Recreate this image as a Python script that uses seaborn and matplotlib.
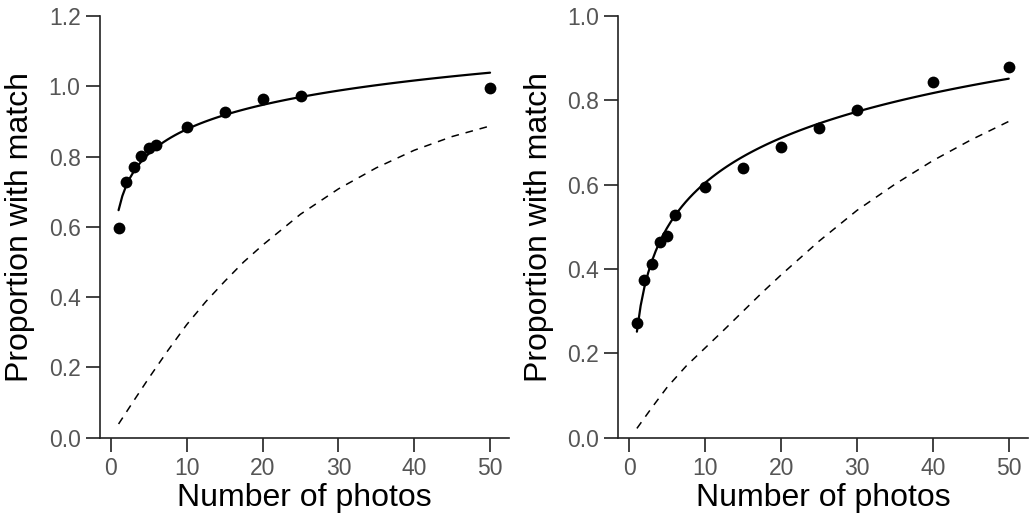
import numpy as np
import pandas as pd
import matplotlib
matplotlib.use("Agg")
import matplotlib.pyplot as plt
from matplotlib.ticker import FormatStrFormatter
import seaborn as sns

# ---- data ----
left_photos = [1, 2, 3, 4, 5, 6, 10, 15, 20, 25, 50]
left_match = [0.598, 0.728, 0.770, 0.801, 0.823, 0.832, 0.885, 0.927, 0.963, 0.973, 0.994]

right_photos = [1, 2, 3, 4, 5, 6, 10, 15, 20, 25, 30, 40, 50]
right_match = [0.273, 0.374, 0.411, 0.463, 0.479, 0.528, 0.594, 0.639, 0.690, 0.734, 0.777, 0.844, 0.880]

dash_photos = [1, 3, 5, 7.5, 10, 12.5, 15, 17.5, 20, 25, 30, 35, 40, 45, 50]
left_dash = [0.039, 0.105, 0.170, 0.248, 0.322, 0.387, 0.445, 0.500, 0.548, 0.636, 0.708, 0.768, 0.818, 0.857, 0.887]
right_dash = [0.022, 0.072, 0.120, 0.170, 0.213, 0.256, 0.300, 0.344, 0.386, 0.466, 0.539, 0.601, 0.657, 0.706, 0.750]

x_ticks = [0, 10, 20, 30, 40, 50]
left_yticks = [0.0, 0.2, 0.4, 0.6, 0.8, 1.0, 1.2]
right_yticks = [0.0, 0.2, 0.4, 0.6, 0.8, 1.0]

x_label = "Number of photos"
y_label = "Proportion with match"

# ---- style ----
sns.set_style("ticks")
plt.rcParams["font.family"] = ["Liberation Sans", "DejaVu Sans"]

W, H = 1029, 518
fig = plt.figure(figsize=(W / 100, H / 100), dpi=100)

panels = [
    dict(px=left_photos, py=left_match, dy=left_dash, yt=left_yticks,
         rect=[100 / W, (H - 437.7) / H, 409 / W, 421.7 / H]),
    dict(px=right_photos, py=right_match, dy=right_dash, yt=right_yticks,
         rect=[618.3 / W, (H - 437.7) / H, 409.4 / W, 421.7 / H]),
]

spine_col = "#222222"
tick_col = "#333333"
label_col = "#555555"

for p in panels:
    ax = fig.add_axes(p["rect"])
    df = pd.DataFrame({"photos": p["px"], "match": p["py"]})
    ddf = pd.DataFrame({"photos": dash_photos, "match": p["dy"]})
    sns.lineplot(data=ddf, x="photos", y="match", ax=ax, color="black",
                 linewidth=1.1, linestyle=(0, (5, 4.5)))
    sns.regplot(data=df, x="photos", y="match", ax=ax, logx=True, ci=None,
                color="black",
                scatter_kws=dict(s=72, linewidths=0, color="black", alpha=1, zorder=3),
                line_kws=dict(linewidth=1.6, color="black"))
    ax.set_xlim(-1.45, 52.5)
    ax.set_ylim(p["yt"][0], p["yt"][-1])
    ax.set_xticks(x_ticks)
    ax.set_yticks(p["yt"])
    ax.yaxis.set_major_formatter(FormatStrFormatter("%.1f"))
    for s in ["top", "right"]:
        ax.spines[s].set_visible(False)
    for s in ["left", "bottom"]:
        ax.spines[s].set_color(spine_col)
        ax.spines[s].set_linewidth(1.2)
    ax.tick_params(axis="both", direction="out", length=10, width=1.3,
                   color=tick_col, labelcolor=label_col, labelsize=16.5, pad=4)
    ax.set_xlabel(x_label, fontsize=23, color="black", labelpad=2)
    ax.set_ylabel(y_label, fontsize=23, color="black")
    ax.yaxis.set_label_coords(-0.158, 0.5)
    ax.set_facecolor("white")
    ax.grid(False)

fig.savefig("out.png", dpi=100, facecolor="white")
